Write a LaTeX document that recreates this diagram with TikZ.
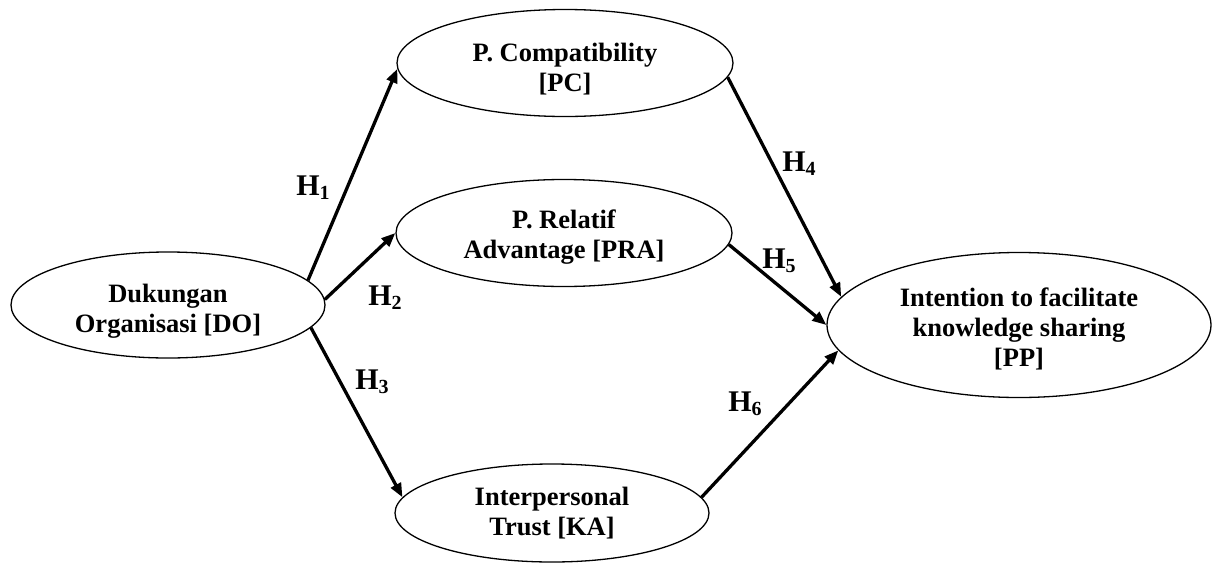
\documentclass[tikz,border=0pt]{standalone}
\usepackage{fontspec}
\setmainfont{Liberation Serif}
\usetikzlibrary{shapes.geometric,arrows.meta}
% hypothesis label: bold H with a lowered index
\newcommand\hypo[1]{H\raisebox{-4pt}{\fontsize{20}{20}\selectfont #1}}
% extra head room on a first line, pushes the text block down a little
\newcommand\headroom[1]{\rule{0pt}{#1}}
\begin{document}
\begin{tikzpicture}[x=1pt,y=-1pt,
  construct/.style={ellipse,draw,line width=1.3pt,inner sep=0pt,align=center,
    font=\fontsize{26.5}{30}\selectfont\bfseries},
  hyparrow/.style={line width=3.3pt,-{Triangle[length=14pt,width=11pt]}},
  hlabel/.style={inner sep=0pt,font=\fontsize{30}{30}\selectfont\bfseries}]
\useasboundingbox (0,0) rectangle (1216,563);

% constructs
\node[construct,minimum width=314pt,minimum height=106pt] (DO) at (168,305)
  {\headroom{31pt}Dukungan\\Organisasi [DO]};
\node[construct,minimum width=336pt,minimum height=107pt] (PC) at (565,63)
  {\headroom{30pt}P. Compatibility\\{[PC]}};
\node[construct,minimum width=336pt,minimum height=107pt] (PRA) at (564,233)
  {\headroom{27pt}P. Relatif\\Advantage [PRA]};
\node[construct,minimum width=314pt,minimum height=98pt] (KA) at (552,513)
  {Interpersonal\\Trust [KA]};
\node[construct,minimum width=384pt,minimum height=145pt] (PP) at (1019,325)
  {\headroom{27pt}Intention to facilitate\\knowledge sharing\\{[PP]}};

% hypothesised paths
\draw[hyparrow] (DO.10)  -- (PC.182);
\draw[hyparrow] (DO.2)   -- (PRA.180);
\draw[hyparrow] (DO.-9)  -- (KA.174);
\draw[hyparrow] (PC.-5)  -- (PP.171);
\draw[hyparrow] (PRA.-4) -- (PP.180);
\draw[hyparrow] (KA.6)   -- (PP.188.5);

% path labels
\node[hlabel] (h1) at (313,188) {\hypo{1}};
\node[hlabel] (h2) at (385,298) {\hypo{2}};
\node[hlabel] (h3) at (372,382) {\hypo{3}};
\node[hlabel] (h4) at (799,164) {\hypo{4}};
\node[hlabel] (h5) at (779,261) {\hypo{5}};
\node[hlabel] (h6) at (745,404) {\hypo{6}};
\end{tikzpicture}
\end{document}
